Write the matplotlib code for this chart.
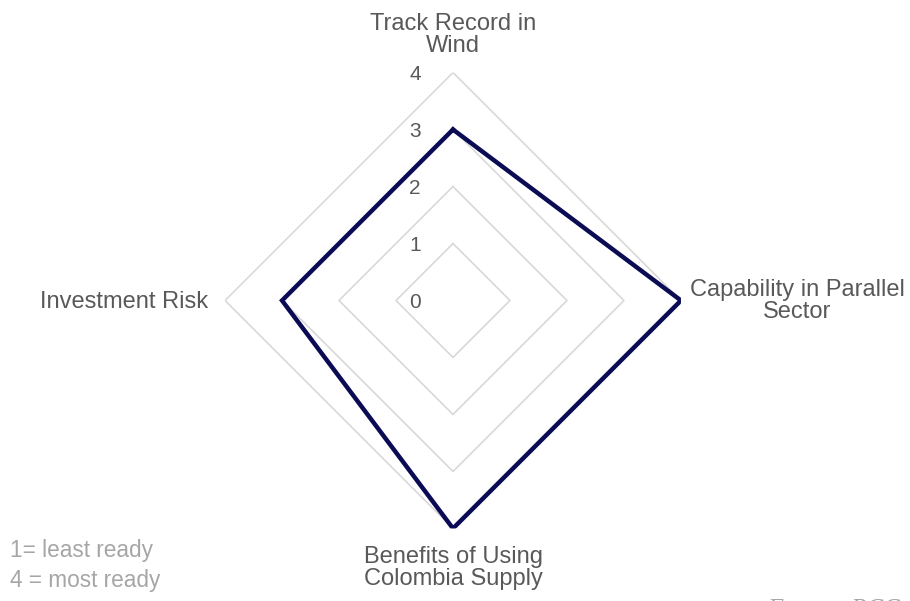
import numpy as np
import matplotlib.pyplot as plt

plt.rcParams['font.family'] = ['Liberation Sans', 'DejaVu Sans']

categories = ["Track Record in\nWind", "Capability in Parallel\nSector",
              "Benefits of Using\nColombia Supply", "Investment Risk"]
values = [3, 4, 4, 3]
levels = [1, 2, 3, 4]
tick_labels = ["0", "1", "2", "3", "4"]

fig = plt.figure(figsize=(9.10, 6.01), dpi=100)
ax = fig.add_axes([0.4978 - 0.2505, 0.5 - 0.3794, 0.501, 0.7588], projection='polar')
ax.set_theta_offset(np.pi / 2)
ax.set_theta_direction(-1)

angles = np.linspace(0, 2 * np.pi, len(categories), endpoint=False)
closed = np.append(angles, angles[0])

# diamond gridlines
for lv in levels:
    ax.plot(closed, [lv] * len(closed), color='#d9d9d9', lw=1.2, zorder=1)

ax.plot(closed, values + values[:1], color='#0b0b55', lw=3.2, zorder=3,
        solid_joinstyle='miter')

ax.set_ylim(0, 4)
ax.grid(False)
ax.spines['polar'].set_visible(False)
ax.set_xticks([])
ax.set_yticks([])
ax.patch.set_alpha(0)

# radial tick labels (left of the vertical axis)
for i, t in enumerate(tick_labels):
    x, y = ax.transData.transform((0, i))
    fig.text((x - 38) / 910, (y - 2) / 601, t, ha='center', va='center',
             fontsize=15, color='#595959')

# category labels
lab = dict(fontsize=17, color='#595959', linespacing=1.03)
fig.text(453 / 910, 1 - 35 / 601, categories[0], ha='center', va='center', **lab)
fig.text(797 / 910, 1 - 301 / 601, categories[1], ha='center', va='center', **lab)
fig.text(453 / 910, 1 - 568 / 601, categories[2], ha='center', va='center', **lab)
fig.text(208 / 910, 1 - 302 / 601, categories[3], ha='right', va='center', **lab)

fig.text(10 / 910, 1 - 550 / 601, "1= least ready", ha='left', va='center',
         fontsize=16.3, color='#a6a6a6')
fig.text(10 / 910, 1 - 580 / 601, "4 = most ready", ha='left', va='center',
         fontsize=16.3, color='#a6a6a6')
fig.text(767 / 910, 1 - 610 / 601, "Fuente: BCG", ha='left', va='center',
         fontsize=18, color='#a6a6a6', style='italic', family='Liberation Serif')

fig.savefig('out.png', dpi=100)
